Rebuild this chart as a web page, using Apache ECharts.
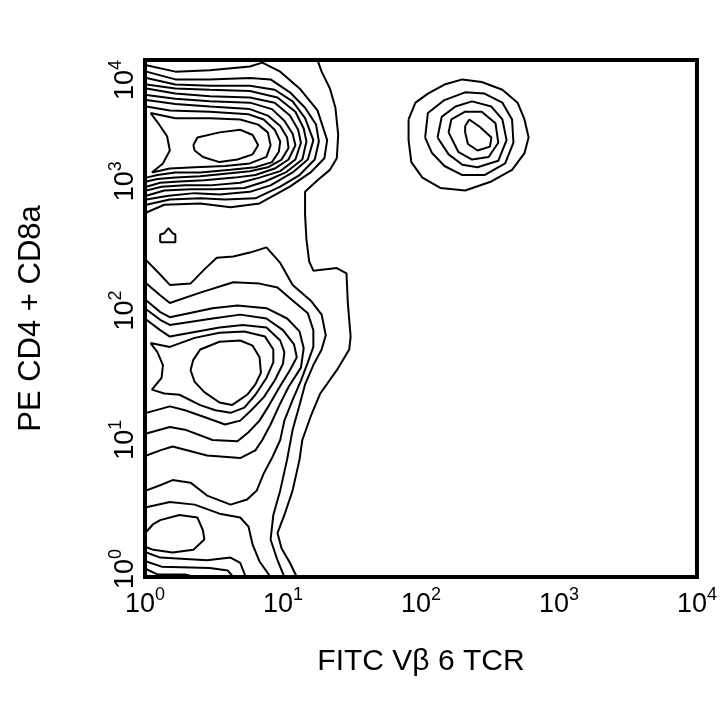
<!DOCTYPE html>
<html>
<head>
<meta charset="utf-8">
<script src="https://cdn.jsdelivr.net/npm/echarts@6/dist/echarts.min.js"></script>
<style>
html, body { margin: 0; padding: 0; background: #fff; }
#contour { width: 720px; height: 720px; }
</style>
</head>
<body>
<div id="contour"></div>
<script>
// both axes are in decades (log10 of the fluorescence)
var decades = [0, 1, 2, 3, 4];
var xTitle = 'FITC V\u03b2 6 TCR';
var yTitle = 'PE CD4 + CD8a';

// contour lines, points are [log10 FITC, log10 PE]
var outerLine = [[1.25,4.00],[1.28,3.91],[1.34,3.78],[1.38,3.63],[1.40,3.42],[1.39,3.24],[1.34,3.15],[1.25,3.07],[1.16,2.98],[1.16,2.80],[1.17,2.61],[1.19,2.44],[1.22,2.37],[1.39,2.39],[1.46,2.35],[1.47,2.12],[1.49,1.86],[1.48,1.76],[1.39,1.60],[1.27,1.42],[1.20,1.24],[1.14,1.06],[1.12,0.91],[1.07,0.67],[1.01,0.48],[0.96,0.34],[0.99,0.22],[1.05,0.11],[1.10,0.00]];

var top2 = [[0.01,3.96],[0.22,3.91],[0.47,3.92],[0.76,3.95],[0.85,3.98],[0.98,3.91],[1.12,3.78],[1.25,3.61],[1.32,3.38],[1.30,3.24],[1.20,3.13],[1.05,3.02],[0.83,2.89],[0.62,2.86],[0.40,2.89],[0.14,2.88],[0.01,2.82]];
var top3 = [[0.01,3.91],[0.22,3.85],[0.47,3.85],[0.76,3.86],[0.91,3.85],[1.05,3.75],[1.16,3.63],[1.24,3.50],[1.26,3.37],[1.23,3.23],[1.12,3.11],[0.98,3.02],[0.80,2.93],[0.58,2.92],[0.40,2.93],[0.18,2.92],[0.01,2.88]];
var top4 = [[0.01,3.86],[0.22,3.81],[0.47,3.80],[0.76,3.80],[0.94,3.77],[1.07,3.68],[1.16,3.55],[1.22,3.38],[1.18,3.23],[1.07,3.13],[0.91,3.03],[0.76,2.98],[0.54,2.96],[0.36,2.97],[0.17,2.95],[0.01,2.92]];
var top5 = [[0.01,3.81],[0.22,3.78],[0.47,3.77],[0.76,3.76],[0.96,3.71],[1.09,3.60],[1.15,3.47],[1.17,3.37],[1.14,3.23],[1.02,3.13],[0.87,3.06],[0.72,3.01],[0.51,3.00],[0.33,3.00],[0.14,2.99],[0.01,2.95]];
var top6 = [[0.01,3.78],[0.22,3.74],[0.47,3.72],[0.76,3.71],[0.94,3.67],[1.05,3.57],[1.11,3.46],[1.13,3.36],[1.09,3.23],[0.98,3.14],[0.83,3.09],[0.69,3.05],[0.47,3.03],[0.29,3.03],[0.12,3.02],[0.01,2.99]];
var top7 = [[0.01,3.73],[0.22,3.70],[0.47,3.68],[0.76,3.67],[0.92,3.62],[1.01,3.53],[1.07,3.43],[1.09,3.34],[1.04,3.23],[0.94,3.16],[0.80,3.11],[0.65,3.09],[0.43,3.07],[0.25,3.06],[0.11,3.05],[0.01,3.02]];
var top8 = [[0.01,3.69],[0.22,3.66],[0.47,3.64],[0.76,3.62],[0.89,3.57],[0.98,3.49],[1.03,3.40],[1.04,3.32],[0.99,3.23],[0.89,3.17],[0.76,3.14],[0.58,3.12],[0.40,3.10],[0.22,3.09],[0.09,3.08],[0.01,3.06]];
var top9 = [[0.01,3.64],[0.18,3.61],[0.47,3.60],[0.75,3.58],[0.86,3.54],[0.94,3.46],[0.98,3.37],[0.97,3.29],[0.92,3.21],[0.80,3.17],[0.62,3.15],[0.40,3.13],[0.22,3.13],[0.09,3.11],[0.01,3.09]];
var top10 = [[0.04,3.59],[0.22,3.55],[0.47,3.55],[0.69,3.54],[0.82,3.50],[0.89,3.44],[0.91,3.34],[0.88,3.25],[0.76,3.20],[0.58,3.18],[0.36,3.17],[0.18,3.16],[0.05,3.13],[0.13,3.20],[0.18,3.30],[0.16,3.41],[0.09,3.52],[0.04,3.59]];
var topCore = [[0.35,3.34],[0.38,3.40],[0.54,3.44],[0.69,3.46],[0.78,3.42],[0.82,3.34],[0.78,3.27],[0.67,3.23],[0.54,3.21],[0.42,3.25],[0.36,3.30],[0.35,3.34]];
var smallSpot = [[0.11,2.59],[0.11,2.65],[0.14,2.66],[0.17,2.70],[0.20,2.66],[0.22,2.65],[0.22,2.59],[0.11,2.59]];

var mid1 = [[0.01,2.45],[0.11,2.34],[0.18,2.26],[0.33,2.27],[0.43,2.38],[0.52,2.47],[0.64,2.48],[0.76,2.51],[0.88,2.55],[0.98,2.43],[1.07,2.26],[1.20,2.14],[1.28,2.03],[1.31,1.87],[1.28,1.76],[1.22,1.64],[1.16,1.49],[1.12,1.33],[1.07,1.14],[1.03,0.91],[0.98,0.67],[0.93,0.48],[0.91,0.29],[0.96,0.13],[1.01,0.00]];
var mid2 = [[0.01,2.27],[0.11,2.18],[0.18,2.12],[0.40,2.20],[0.64,2.28],[0.83,2.27],[0.96,2.24],[1.07,2.14],[1.18,2.04],[1.22,1.91],[1.22,1.78],[1.18,1.66],[1.13,1.52],[1.07,1.37],[1.01,1.21],[0.98,1.06],[0.92,0.92],[0.86,0.80],[0.81,0.67],[0.74,0.60],[0.62,0.56],[0.45,0.63],[0.33,0.73],[0.20,0.75],[0.11,0.71],[0.01,0.67]];
var mid3 = [[0.01,2.14],[0.11,2.05],[0.18,2.01],[0.49,2.08],[0.67,2.10],[0.88,2.08],[1.03,2.00],[1.12,1.90],[1.15,1.77],[1.13,1.62],[1.04,1.47],[0.97,1.32],[0.91,1.18],[0.85,1.06],[0.80,0.98],[0.69,0.92],[0.45,0.94],[0.20,1.01],[0.11,0.98],[0.01,0.94]];
var mid4 = [[0.01,2.07],[0.11,1.99],[0.18,1.95],[0.49,2.00],[0.69,2.03],[0.88,2.00],[1.00,1.91],[1.08,1.80],[1.10,1.70],[1.05,1.60],[0.97,1.46],[0.90,1.33],[0.83,1.21],[0.75,1.12],[0.67,1.05],[0.49,1.06],[0.29,1.14],[0.18,1.16],[0.01,1.11]];
var mid5 = [[0.01,1.99],[0.11,1.91],[0.18,1.86],[0.54,1.93],[0.71,1.95],[0.88,1.93],[0.98,1.83],[1.01,1.74],[1.00,1.65],[0.94,1.52],[0.86,1.39],[0.77,1.29],[0.69,1.21],[0.58,1.18],[0.45,1.23],[0.29,1.29],[0.18,1.32],[0.01,1.27]];
var mid6 = [[0.04,1.81],[0.18,1.78],[0.36,1.85],[0.54,1.89],[0.72,1.90],[0.87,1.86],[0.93,1.76],[0.93,1.66],[0.88,1.54],[0.80,1.41],[0.72,1.31],[0.62,1.27],[0.51,1.29],[0.40,1.33],[0.25,1.41],[0.14,1.42],[0.05,1.45],[0.12,1.54],[0.13,1.64],[0.09,1.74],[0.04,1.81]];
var midCore = [[0.33,1.60],[0.35,1.68],[0.40,1.76],[0.54,1.82],[0.69,1.83],[0.78,1.79],[0.83,1.70],[0.84,1.58],[0.80,1.49],[0.74,1.41],[0.63,1.33],[0.54,1.35],[0.43,1.43],[0.36,1.51],[0.33,1.60]];

var lowRing = [[0.01,0.54],[0.18,0.58],[0.36,0.56],[0.54,0.49],[0.69,0.46],[0.75,0.39],[0.78,0.25],[0.83,0.12],[0.91,0.00]];
var lowCore = [[0.01,0.35],[0.06,0.41],[0.11,0.44],[0.25,0.48],[0.38,0.46],[0.42,0.36],[0.43,0.29],[0.35,0.21],[0.20,0.19],[0.06,0.21],[0.01,0.23]];
var corner1 = [[0.01,0.19],[0.11,0.15],[0.45,0.13],[0.62,0.15],[0.69,0.11],[0.73,0.00]];
var corner2 = [[0.01,0.12],[0.12,0.08],[0.47,0.07],[0.60,0.05],[0.64,0.00]];
var corner3 = [[0.01,0.06],[0.09,0.02],[0.29,0.02],[0.36,0.00]];

var right1 = [[1.91,3.54],[1.96,3.67],[2.05,3.74],[2.17,3.81],[2.30,3.85],[2.44,3.83],[2.59,3.77],[2.70,3.67],[2.75,3.54],[2.78,3.40],[2.75,3.28],[2.66,3.15],[2.51,3.06],[2.32,2.99],[2.14,3.01],[2.01,3.09],[1.93,3.21],[1.91,3.38],[1.91,3.54]];
var right2 = [[2.03,3.40],[2.05,3.59],[2.17,3.69],[2.32,3.75],[2.46,3.74],[2.59,3.67],[2.66,3.54],[2.67,3.36],[2.61,3.20],[2.46,3.11],[2.30,3.11],[2.17,3.18],[2.08,3.28],[2.03,3.40]];
var right3 = [[2.12,3.40],[2.15,3.56],[2.25,3.64],[2.37,3.68],[2.51,3.64],[2.59,3.54],[2.62,3.38],[2.56,3.22],[2.41,3.17],[2.30,3.19],[2.20,3.27],[2.12,3.40]];
var right4 = [[2.20,3.44],[2.22,3.54],[2.32,3.60],[2.44,3.60],[2.54,3.51],[2.56,3.36],[2.49,3.25],[2.37,3.23],[2.27,3.29],[2.20,3.44]];
var rightCore = [[2.32,3.49],[2.35,3.54],[2.43,3.48],[2.51,3.40],[2.50,3.33],[2.41,3.30],[2.34,3.35],[2.32,3.44],[2.32,3.49]];

var contourLines = [
  outerLine, top2, top3, top4, top5, top6, top7, top8, top9, top10, topCore, smallSpot,
  mid1, mid2, mid3, mid4, mid5, mid6, midCore,
  lowRing, lowCore, corner1, corner2, corner3,
  right1, right2, right3, right4, rightCore
];

var font = 'Liberation Sans, Arial, sans-serif';

// "10" with the exponent raised: exponent sits at the top of the line box
function powerLabel(v) {
  return '{b|10}{s|' + v + '}';
}
var powerRich = {
  b: { fontSize: 27, lineHeight: 32, fontFamily: font, color: '#000', verticalAlign: 'bottom' },
  s: { fontSize: 18, lineHeight: 10, fontFamily: font, color: '#000', verticalAlign: 'top' }
};

var chart = echarts.init(document.getElementById('contour'));
var option = {
  backgroundColor: '#fff',
  animation: false,
  grid: {
    left: 145,
    right: 23,
    top: 60,
    bottom: 143,
    show: true,
    borderColor: '#000',
    borderWidth: 4,
    backgroundColor: 'transparent'
  },
  xAxis: {
    type: 'value',
    min: decades[0],
    max: decades[decades.length - 1],
    interval: 1,
    name: xTitle,
    nameLocation: 'middle',
    nameGap: 70,
    nameTextStyle: { fontSize: 30, fontFamily: font, color: '#000' },
    axisLine: { show: false },
    axisTick: { show: false },
    splitLine: { show: false },
    axisLabel: { margin: 9, fontSize: 27, fontFamily: font, color: '#000', formatter: powerLabel, rich: powerRich }
  },
  yAxis: {
    type: 'value',
    min: decades[0],
    max: decades[decades.length - 1],
    interval: 1,
    name: yTitle,
    nameLocation: 'middle',
    nameRotate: 90,
    nameGap: 98,
    nameTextStyle: { fontSize: 31, fontFamily: font, color: '#000' },
    axisLine: { show: false },
    axisTick: { show: false },
    splitLine: { show: false },
    axisLabel: { rotate: 90, margin: 6, padding: [0, 0, 0, 16], fontSize: 27, fontFamily: font, color: '#000', alignMaxLabel: 'right', formatter: powerLabel, rich: powerRich }
  },
  series: contourLines.map(function (pts) {
    return {
      type: 'line',
      data: pts,
      showSymbol: false,
      symbol: 'none',
      silent: true,
      lineStyle: { color: '#000', width: 2 }
    };
  })
};
chart.setOption(option);
</script>
</body>
</html>
